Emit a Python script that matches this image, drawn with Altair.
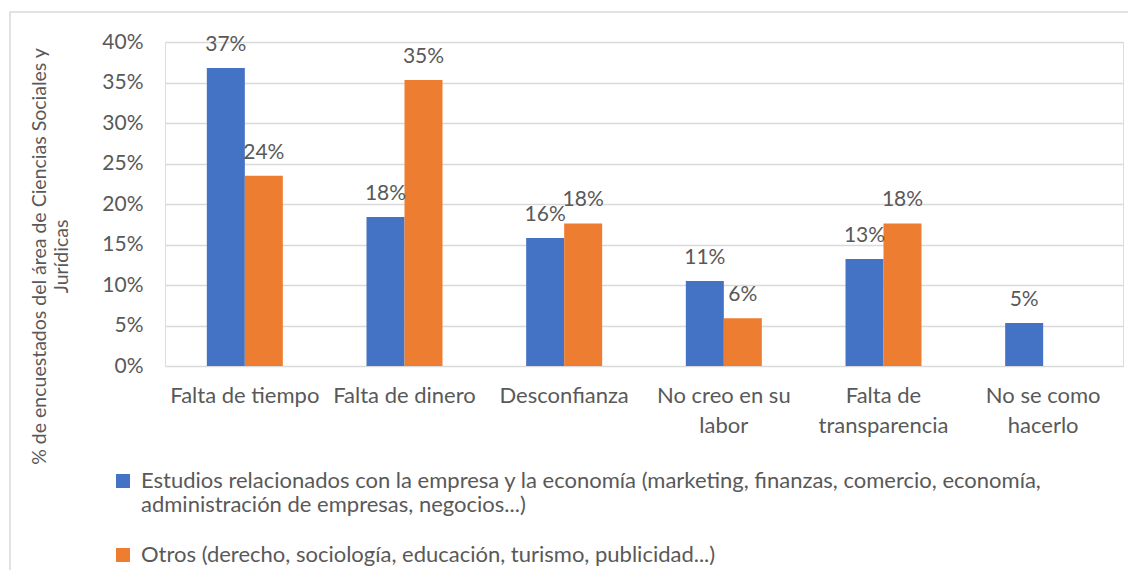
import altair as alt
import pandas as pd

categories = ["Falta de tiempo", "Falta de dinero", "Desconfianza",
              "No creo en su labor", "Falta de transparencia", "No se como hacerlo"]
category_lines = {
    "No creo en su labor": ["No creo en su", "labor"],
    "Falta de transparencia": ["Falta de", "transparencia"],
    "No se como hacerlo": ["No se como", "hacerlo"],
}
series_names = [
    "Estudios relacionados con la empresa y la economía (marketing, finanzas, comercio, economía, administración de empresas, negocios...)",
    "Otros (derecho, sociología, educación, turismo, publicidad...)",
]
series_lines = {
    series_names[0]: ["Estudios relacionados con la empresa y la economía (marketing, finanzas, comercio, economía,",
                      "administración de empresas, negocios...)"],
}
empresa_pct = [36.8, 18.4, 15.8, 10.5, 13.2, 5.3]
otros_pct = [23.5, 35.3, 17.6, 5.9, 17.6, 0.0]
y_ticks = [0, 0.05, 0.10, 0.15, 0.20, 0.25, 0.30, 0.35, 0.40]
y_title = ["% de encuestados del área de Ciencias Sociales y", "Jurídicas"]

colors = ["#4472C4", "#ED7D31"]
text_color = "#595959"
grid_color = "#D9D9D9"
font = "Lato"

rows = []
for cat, a, b in zip(categories, empresa_pct, otros_pct):
    rows.append({"cat": cat, "series": series_names[0], "value": a / 100})
    rows.append({"cat": cat, "series": series_names[1], "value": b / 100})
df = pd.DataFrame(rows)


def lines_expr(mapping):
    expr = "datum.label"
    for k, v in mapping.items():
        arr = "[" + ",".join("'" + s + "'" for s in v) + "]"
        expr = f"datum.label == '{k}' ? {arr} : ({expr})"
    return expr


x_enc = alt.X(
    "cat:N", sort=categories,
    scale=alt.Scale(paddingInner=0.524, paddingOuter=0.262),
    axis=alt.Axis(title=None, labelAngle=0, labelFontSize=22, labelColor=text_color,
                  labelFont=font, labelPadding=19, labelLineHeight=30, ticks=False,
                  domain=False, labelExpr=lines_expr(category_lines), labelLimit=0),
)
xoff_enc = alt.XOffset("series:N", sort=series_names,
                       scale=alt.Scale(paddingInner=0, paddingOuter=0))
y_enc = alt.Y(
    "value:Q", scale=alt.Scale(domain=[0, 0.4], nice=False),
    axis=alt.Axis(format=".0%", values=y_ticks, title=y_title, titleFont=font,
                  titleFontSize=19.5, titleFontWeight="normal", titleColor=text_color,
                  titleLineHeight=22, titleX=-135, titleY=214, titleAngle=270,
                  titleAlign="center", titleBaseline="top",
                  labelFontSize=21, labelColor=text_color, labelFont=font,
                  labelPadding=22, ticks=False, domain=False,
                  gridColor=grid_color, gridWidth=1.5),
)

bars = alt.Chart(df).mark_bar().encode(
    x=x_enc, xOffset=xoff_enc, y=y_enc,
    color=alt.Color(
        "series:N", sort=series_names,
        scale=alt.Scale(domain=series_names, range=colors),
        legend=alt.Legend(
            title=None, orient="none", legendX=-53, legendY=428, direction="vertical",
            symbolType="square", symbolSize=196, symbolStrokeWidth=0,
            labelFontSize=22, labelFont=font, labelColor=text_color,
            labelOffset=7, labelLimit=0, rowPadding=28,
            labelExpr=lines_expr(series_lines),
        ),
    ),
)

labels = alt.Chart(df).transform_filter("datum.value > 0").mark_text(
    baseline="alphabetic", dy=-17, fontSize=21, font=font, color=text_color
).encode(
    x=alt.X("cat:N", sort=categories),
    xOffset=alt.XOffset("series:N", sort=series_names),
    y=alt.Y("value:Q"),
    text=alt.Text("value:Q", format=".0%"),
)

frame = alt.Chart(pd.DataFrame({"f": [0]})).mark_rect(
    fill=None, stroke=grid_color, strokeWidth=1.5
).encode(
    x=alt.value(-155), x2=alt.value(1400), y=alt.value(-30), y2=alt.value(900)
)

chart = alt.layer(frame, bars, labels).properties(
    width=958, height=324,
    autosize=alt.AutoSizeParams(type="none"),
    padding={"left": 157, "top": 34, "right": 5, "bottom": 204},
).configure_view(stroke=None).configure(font=font)

chart.save("out.html", embed_options={"renderer": "svg", "actions": False})
